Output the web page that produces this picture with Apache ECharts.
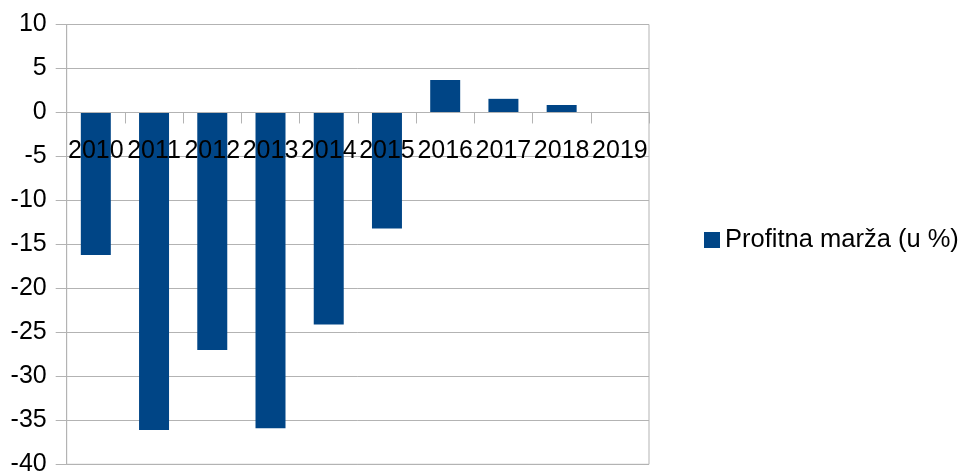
<!DOCTYPE html>
<html>
<head>
<meta charset="utf-8">
<script src="https://cdn.jsdelivr.net/npm/echarts@6/dist/echarts.min.js"></script>
<style>html,body{margin:0;padding:0;background:#fff}#c{width:963px;height:473px}</style>
</head>
<body>
<div id="c"></div>
<script>
const categories = ['2010','2011','2012','2013','2014','2015','2016','2017','2018','2019'];
const seriesName = 'Profitna marža (u %)';
const values = [-16.2, -36.1, -27.0, -35.9, -24.1, -13.2, 3.7, 1.55, 0.85, null];
const yMin = -40, yMax = 10, yStep = 5;

const gridTop = 24.5, gridBottom = 8.7, chartH = 473;
const plotH = chartH - gridTop - gridBottom;
// distance of the zero line above the grid bottom, derived from the axis range
const zeroOffset = plotH * (0 - yMin) / (yMax - yMin);

const chart = echarts.init(document.getElementById('c'), null, {renderer: 'canvas'});
chart.setOption({
  animation: false,
  textStyle: {fontFamily: 'Liberation Sans'},
  grid: {left: 66.7, right: 314, top: gridTop, bottom: gridBottom, show: true, borderColor: '#b3b3b3', borderWidth: 1, containLabel: false, outerBoundsMode: 'none'},
  legend: {
    show: true, orient: 'vertical', left: 699, top: 222,
    icon: 'rect', itemWidth: 16, itemHeight: 16, itemGap: 8,
    textStyle: {fontSize: 25.5, color: '#000', fontFamily: 'Liberation Sans', padding: [0,0,0,0]},
    data: [seriesName]
  },
  xAxis: {
    type: 'category', data: categories, position: 'bottom', offset: -zeroOffset, z: 10,
    axisLine: {show: true, onZero: false, lineStyle: {color: '#b3b3b3', width: 1}},
    axisTick: {show: true, length: 11, lineStyle: {color: '#b3b3b3'}},
    axisLabel: {interval: 0, fontSize: 25, color: '#000', margin: 26, fontFamily: 'Liberation Sans', hideOverlap: false},
    splitLine: {show: false}
  },
  yAxis: {
    type: 'value', min: yMin, max: yMax, interval: yStep,
    axisLine: {show: true, lineStyle: {color: '#b3b3b3'}},
    axisTick: {show: true, length: 11, lineStyle: {color: '#b3b3b3'}},
    axisLabel: {fontSize: 25, color: '#000', margin: 20, fontFamily: 'Liberation Sans'},
    splitLine: {show: true, lineStyle: {color: '#b3b3b3', width: 1}}
  },
  series: [{
    name: seriesName, type: 'bar', data: values, barWidth: '51.5%', z: 2,
    itemStyle: {color: '#004586'}
  }]
});
</script>
</body>
</html>
